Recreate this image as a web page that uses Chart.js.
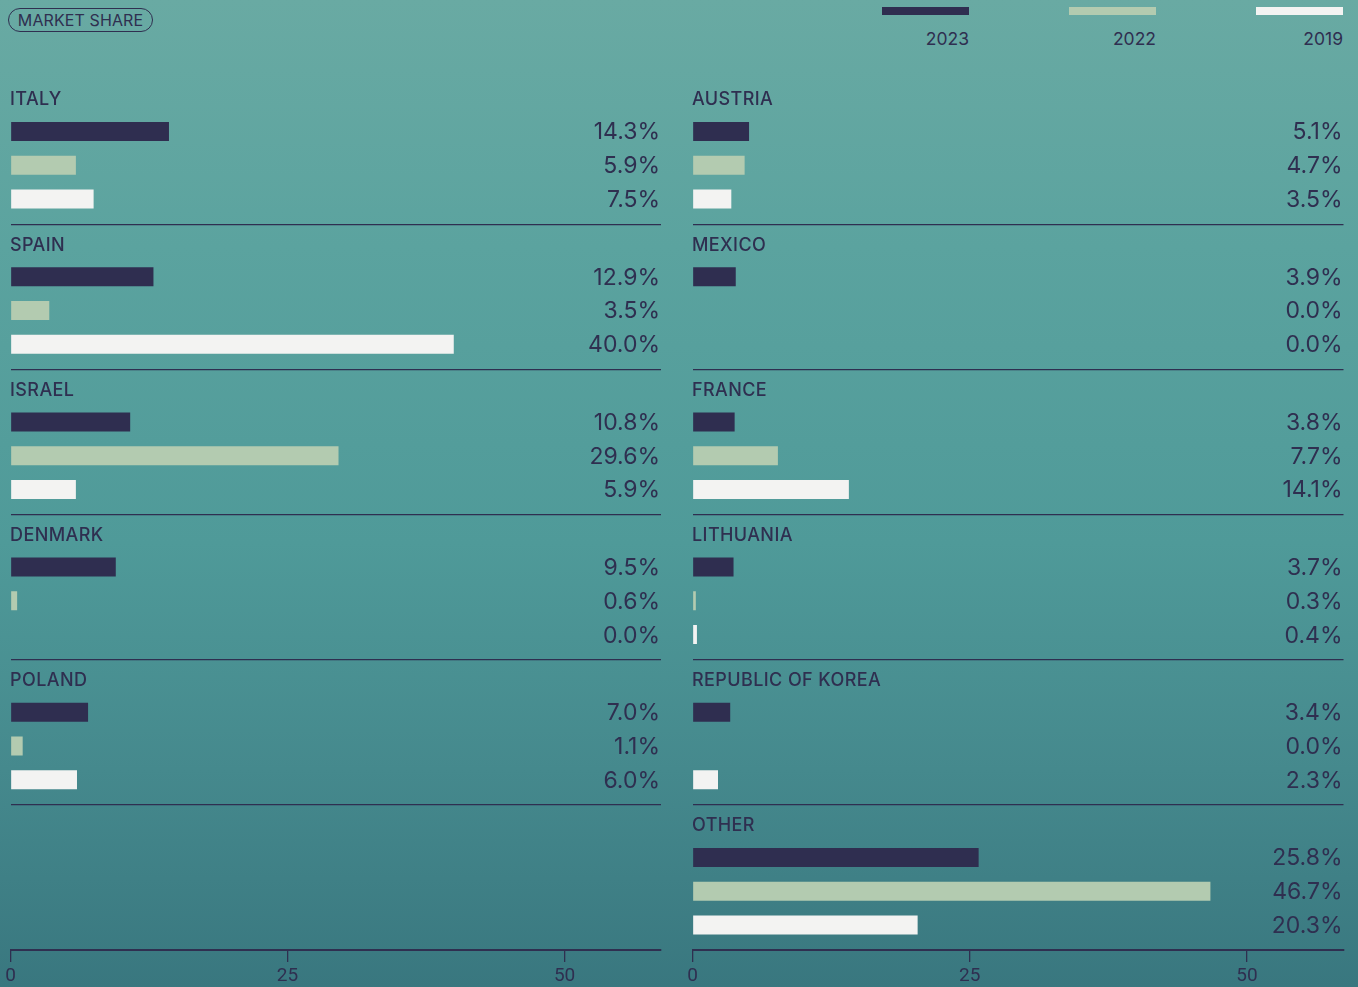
<!DOCTYPE html>
<html><head><meta charset="utf-8">
<script src="https://cdn.jsdelivr.net/npm/chart.js@4"></script>
<style>
html,body{margin:0;padding:0;width:1358px;height:987px;overflow:hidden;}
body{background:linear-gradient(180deg,#69aaa3 0%,#5ba39f 25%,#4f9a99 55%,#45898d 78%,#39777f 100%);font-family:Inter,sans-serif;color:#2f2f50;position:relative;}
.pill{position:absolute;left:8px;top:8px;width:143px;height:22px;border:1.8px solid #2f2f50;border-radius:13px;font-size:16px;line-height:22px;text-align:center;letter-spacing:0.1px;}
.leg{position:absolute;top:7px;width:87px;}
.leg .sw{height:8px;}
.leg .lb{text-align:right;font-size:17.5px;line-height:20px;margin-top:14px;}
.wrap{position:absolute;top:0;width:679px;height:992px;}
</style></head>
<body>
<div class="pill">MARKET SHARE</div>
<div id="legend"></div>
<div class="wrap" style="left:0"><canvas id="left"></canvas></div>
<div class="wrap" style="left:679px"><canvas id="right"></canvas></div>
<script>
// ---- data ----
const GROUPS_LEFT = ['ITALY','SPAIN','ISRAEL','DENMARK','POLAND'];
const GROUPS_RIGHT = ['AUSTRIA','MEXICO','FRANCE','LITHUANIA','REPUBLIC OF KOREA','OTHER'];
const SERIES = ['2023','2022','2019'];
const LEFT_2023 = [14.3, 12.9, 10.8, 9.5, 7.0];
const LEFT_2022 = [5.9, 3.5, 29.6, 0.6, 1.1];
const LEFT_2019 = [7.5, 40.0, 5.9, 0.0, 6.0];
const RIGHT_2023 = [5.1, 3.9, 3.8, 3.7, 3.4, 25.8];
const RIGHT_2022 = [4.7, 0.0, 7.7, 0.3, 0.0, 46.7];
const RIGHT_2019 = [3.5, 0.0, 14.1, 0.4, 2.3, 20.3];
const X_TICKS = [0, 25, 50];
const X_MAX = 58.7;

// ---- style ----
const INK = '#2f2f50';
const COLORS = ['#2f2e50', '#b3cbb0', '#f3f3f2'];
const ROW0 = 0.362, ROW_STEP = 0.2325, TITLE_OFF = 0.141;

// legend (HTML)
const legendLefts = [882, 1069, 1256];
const legEl = document.getElementById('legend');
SERIES.forEach((s, i) => {
  const d = document.createElement('div');
  d.className = 'leg';
  d.style.left = legendLefts[i] + 'px';
  d.innerHTML = '<div class="sw" style="background:' + COLORS[i] + '"></div><div class="lb">' + s + '</div>';
  legEl.appendChild(d);
});

const labelsPlugin = {
  id: 'groupLabels',
  afterDatasetsDraw(chart, args, opts) {
    const {ctx, chartArea, scales: {y}} = chart;
    ctx.save();
    ctx.fillStyle = INK;
    ctx.textBaseline = 'middle';
    ctx.textAlign = 'left';
    ctx.font = '500 18px Inter';
    ctx.letterSpacing = '0.4px';
    opts.groups.forEach((g, i) => {
      ctx.fillText(g, chartArea.left - 0.5, y.getPixelForValue(i + TITLE_OFF) + 0.5);
    });
    ctx.letterSpacing = '0px';
    ctx.font = '23px Inter';
    ctx.textAlign = 'right';
    chart.data.datasets.forEach(ds => {
      ds.data.forEach(p => {
        ctx.fillText(p.x.toFixed(1) + '%', chartArea.right - 1, y.getPixelForValue(p.y) + 1);
      });
    });
    ctx.restore();
  }
};

function makeChart(id, groups, seriesVals, padLeft, padRight) {
  const datasets = seriesVals.map((vals, s) => ({
    label: SERIES[s],
    data: vals.map((v, g) => ({x: v, y: g + ROW0 + s * ROW_STEP})),
    backgroundColor: c => (c.raw && c.raw.x === 0) ? 'rgba(0,0,0,0)' : COLORS[s],
    borderWidth: 0,
    inflateAmount: 0,
    barThickness: 19,
    grouped: false
  }));
  return new Chart(document.getElementById(id), {
    type: 'bar',
    data: {datasets},
    plugins: [labelsPlugin],
    options: {
      indexAxis: 'y',
      responsive: true,
      maintainAspectRatio: false,
      animation: false,
      layout: {padding: {top: 79, bottom: 1, left: padLeft, right: padRight}},
      plugins: {legend: {display: false}, tooltip: {enabled: false}, groupLabels: {groups}},
      scales: {
        y: {
          type: 'linear', min: 0, max: 6, reverse: true, offset: false,
          ticks: {display: false, stepSize: 1},
          grid: {drawTicks: false, lineWidth: 1.3, offset: false,
                 color: c => (c.tick && c.tick.value >= 1 && c.tick.value <= 5) ? INK : 'rgba(0,0,0,0)'},
          border: {display: false}
        },
        x: {
          type: 'linear', min: 0, max: X_MAX, offset: false,
          afterBuildTicks: sc => { sc.ticks = X_TICKS.map(v => ({value: v})); },
          ticks: {color: INK, padding: 4.5, maxRotation: 0,
                  font: {family: "'Liberation Sans Narrow', Roboto, sans-serif", size: 19, lineHeight: 1.05}},
          grid: {drawOnChartArea: false, drawTicks: true, tickLength: 12, color: INK, lineWidth: 1.3},
          border: {display: true, color: INK, width: 2}
        }
      }
    }
  });
}

makeChart('left', GROUPS_LEFT, [LEFT_2023, LEFT_2022, LEFT_2019], 10.5, 18);
makeChart('right', GROUPS_RIGHT, [RIGHT_2023, RIGHT_2022, RIGHT_2019], 13.5, 14.5);
</script>
</body></html>
